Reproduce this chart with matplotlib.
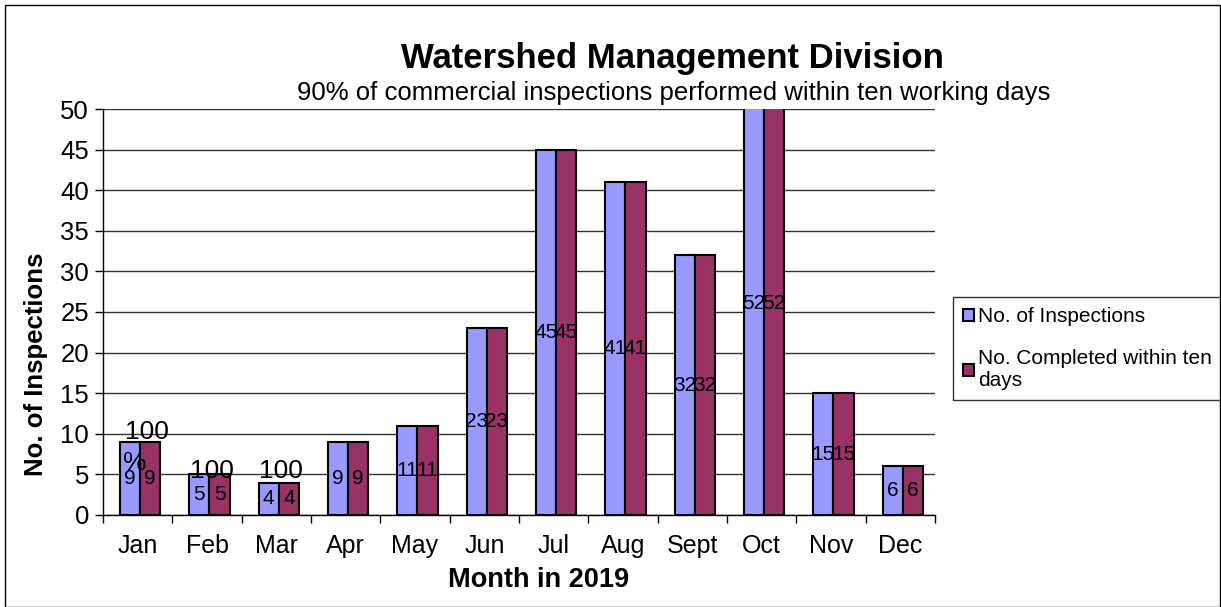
import matplotlib.pyplot as plt
import numpy as np
from matplotlib.patches import Rectangle

plt.rcParams.update({
    "font.family": ["Liberation Sans", "DejaVu Sans"],
    "font.size": 18,
})

months = ["Jan", "Feb", "Mar", "Apr", "May", "Jun", "Jul", "Aug", "Sept", "Oct", "Nov", "Dec"]
inspections = [9, 5, 4, 9, 11, 23, 45, 41, 32, 52, 15, 6]
completed = [9, 5, 4, 9, 11, 23, 45, 41, 32, 52, 15, 6]

COLORS = {
    "inspections": "#9999FF",
    "completed": "#993366",
}

fig = plt.figure(figsize=(12.21, 6.07), dpi=100)
ax = fig.add_axes([0.0844, 0.1516, 0.6814, 0.6688])

x = np.arange(len(months))
w = 0.29
off = 0.035
ax.bar(x - w / 2 + off, inspections, w, color=COLORS["inspections"], edgecolor="black",
       linewidth=1.5, label="No. of Inspections", zorder=3)
ax.bar(x + w / 2 + off, completed, w, color=COLORS["completed"], edgecolor="black",
       linewidth=1.5, label="No. Completed within ten\ndays", zorder=3)

for xi, v in zip(x, inspections):
    ax.text(xi - w / 2 + off, v / 2, str(v), ha="center", va="center", fontsize=15, zorder=5)
for xi, v in zip(x, completed):
    ax.text(xi + w / 2 + off, v / 2, str(v), ha="center", va="center", fontsize=15, zorder=5)

# "100%" labels on the first months (partly hidden, as in the original)
ax.text(0.14, 10.2, "100", ha="center", va="center", fontsize=19, zorder=5)
ax.text(-0.04, 6.4, "%", ha="center", va="center", fontsize=19, zorder=5)
for xi in [1, 2]:
    t = ax.text(xi + 0.065, 5.45, "100", ha="center", va="center", fontsize=19, zorder=4)
    t.set_clip_path(Rectangle((xi - 0.5, 5), 1, 10, transform=ax.transData))

ax.set_xlim(-0.5, 11.5)
ax.set_ylim(0, 50)
ax.set_yticks(range(0, 51, 5))
ax.set_xticks(x)
ax.set_xticklabels(months)
ax.set_xticks(np.arange(-0.5, 12, 1), minor=True)
ax.tick_params(axis="x", which="major", length=0, labelsize=18, pad=14)
ax.tick_params(axis="x", which="minor", length=6, width=1)
ax.tick_params(axis="y", length=6, width=1, labelsize=18.5, pad=4)
ax.yaxis.grid(True, color="#333333", linewidth=1, zorder=0)
ax.set_axisbelow(True)
for s in ["top", "right"]:
    ax.spines[s].set_visible(False)
ax.spines["left"].set_linewidth(1)
ax.spines["bottom"].set_linewidth(1)

ax.set_xlabel("Month in 2019", fontsize=19.5, fontweight="bold")
ax.xaxis.set_label_coords(0.523, -0.128)
ax.set_ylabel("No. of Inspections", fontsize=18.5, fontweight="bold")
ax.yaxis.set_label_coords(-0.066, 0.372)

fig.text(0.551, 0.903, "Watershed Management Division", ha="center", va="center",
         fontsize=25, fontweight="bold")
fig.text(0.552, 0.846, "90% of commercial inspections performed within ten working days",
         ha="center", va="center", fontsize=18.5)

leg = ax.legend(loc="center left", bbox_to_anchor=(1.0216, 0.41), frameon=True, fancybox=False,
                edgecolor="black", fontsize=15, handlelength=0.5, handleheight=0.5,
                handletextpad=0.2, labelspacing=1.1, borderpad=0.5, borderaxespad=0)
leg.get_frame().set_linewidth(1)

fig.patches.append(Rectangle((0.004, 0.0), 0.995, 0.992, transform=fig.transFigure,
                             fill=False, edgecolor="black", linewidth=1))

plt.savefig("out.png", dpi=100)
